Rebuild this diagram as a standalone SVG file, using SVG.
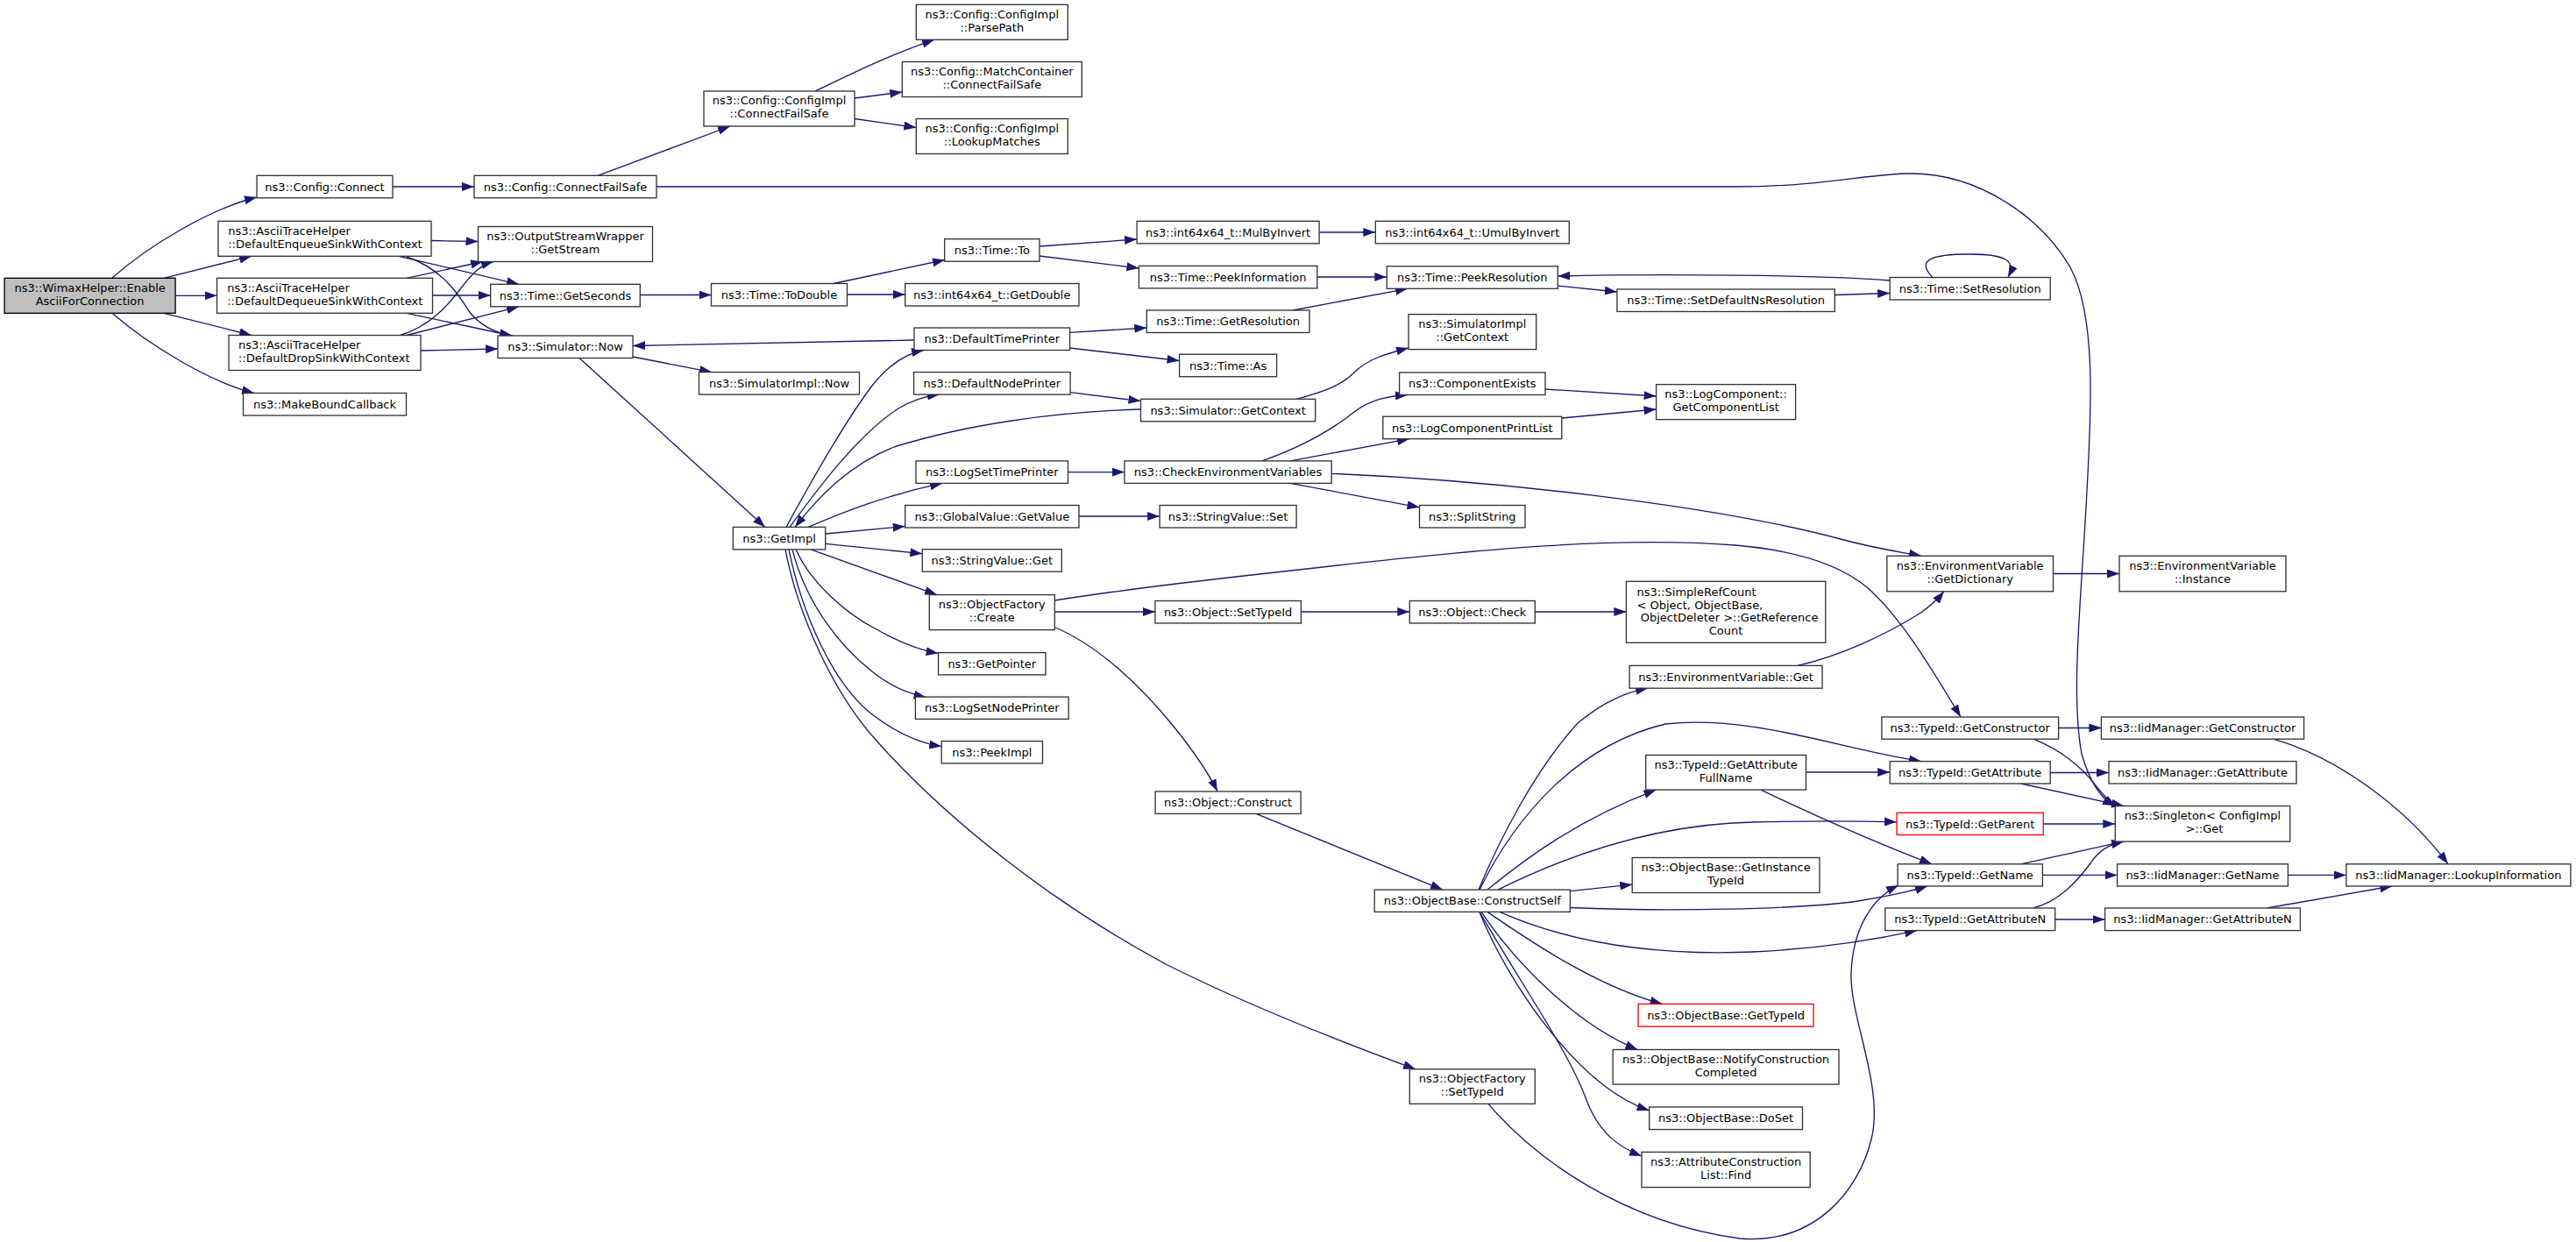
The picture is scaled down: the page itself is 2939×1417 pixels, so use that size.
<svg xmlns="http://www.w3.org/2000/svg" width="2939" height="1417" viewBox="0 0 2939 1417">
<defs>
<style>
.n rect{fill:#fff;stroke:#333;stroke-width:1.33}
.n.g rect{fill:#bfbfbf;stroke:#000}
.n.r rect{stroke:#f00}
.n text{font-family:"DejaVu Sans",sans-serif;font-size:13px;fill:#000;text-anchor:middle}
.n text.l{text-anchor:start}
#edges path{fill:none;stroke:#191970;stroke-width:1.33;marker-end:url(#a)}
</style>
<marker id="a" viewBox="0 0 14 10" refX="14" refY="5" markerWidth="14" markerHeight="10" markerUnits="userSpaceOnUse" orient="auto"><path d="M0,0 L14,5 L0,10 z" fill="#191970"/></marker>
</defs>
<rect width="2939" height="1417" fill="#fff"/>
<g id="edges">
<path d="M128,317 C170,280 240,238 293,225"/>
<path d="M187,317.3 L287,292.3"/>
<path d="M200,337.3 L247.5,337.3"/>
<path d="M187,357.3 L287,382.5"/>
<path d="M128,357.3 C170,394 240,436 290,448.5"/>
<path d="M448,213 L541,213"/>
<path d="M682,200.3 L833,144"/>
<path d="M749,213 L1980,213 C2080,213 2130,198 2180,198 C2260,198 2330,250 2362,305 C2392,360 2386,470 2381,560 C2375,680 2362,790 2375,860 C2385,895 2398,912 2413,919.6"/>
<path d="M930,104 C960,90 1010,64 1066,45.3"/>
<path d="M975,112 L1029.3,105"/>
<path d="M975,135.5 L1045.3,145.5"/>
<path d="M492,274.5 L545.5,275.5"/>
<path d="M455,292.3 L592,324.3"/>
<path d="M464,293 C500,305 520,330 535,355 C548,372 565,380 585,383"/>
<path d="M464,317.3 L551,298.5"/>
<path d="M493.5,337 L559.7,337"/>
<path d="M464,357.3 L584,383"/>
<path d="M457,382.5 C490,372 510,350 525,330 C540,310 550,302 563,298.5"/>
<path d="M464,382.5 L592,349.8"/>
<path d="M480,400 L568,398"/>
<path d="M730.3,336.5 L811.5,336.5"/>
<path d="M722,407 L812,424.6"/>
<path d="M661,408.5 L873,601.4"/>
<path d="M951,323.5 L1078,296.5"/>
<path d="M966.5,336 L1032.7,336"/>
<path d="M1186,281 L1297.1,273"/>
<path d="M1186,292 L1299.4,306"/>
<path d="M1505.1,265 L1569.3,265"/>
<path d="M1502.8,316 L1582.3,316"/>
<path d="M1475,354 L1606,329.3"/>
<path d="M1777.3,326 L1844.9,333"/>
<path d="M2093.3,336.5 L2156.2,334.5"/>
<path d="M2156.2,320 C2080,314 1900,312 1777.3,315"/>
<path d="M2205,316.5 C2185,296 2205,290 2247,290 C2290,290 2300,298 2291,316.5"/>
<path d="M1220.6,379.4 L1308.3,374"/>
<path d="M1220.6,397 L1345.6,411.5"/>
<path d="M1043,388 L722,394.5"/>
<path d="M1221,447.7 L1301.5,457.6"/>
<path d="M1479.4,455.3 C1510,447 1530,440 1545,425 C1560,410 1580,404 1607,397"/>
<path d="M1301.5,467 C1200,470 1100,485 1020,510 C970,530 935,565 907,601.4"/>
<path d="M897,601.4 C925,550 965,480 995,440 C1015,415 1035,403 1054,399.5"/>
<path d="M901,601.4 C935,555 980,495 1025,466 C1040,457 1055,452 1072,450.1"/>
<path d="M922,601.4 C960,585 1010,565 1075,551.4"/>
<path d="M941.7,609 L1032.7,600.5"/>
<path d="M941.7,620.4 L1052.3,631.7"/>
<path d="M925,626.9 L1069,678.6"/>
<path d="M908,626.9 C925,665 965,700 1000,718 C1030,735 1050,742 1070.6,745.5"/>
<path d="M904,626.9 C920,690 960,740 1000,770 C1020,785 1040,792 1056.6,795.5"/>
<path d="M900,626.9 C915,700 950,780 995,815 C1025,838 1050,848 1074.2,851.6"/>
<path d="M896,626.9 C910,700 950,790 1000,845 C1080,935 1200,1030 1330,1100 C1420,1145 1520,1185 1615,1219.8"/>
<path d="M1218.3,538.6 L1283,538.6"/>
<path d="M1231,589 L1323.1,589"/>
<path d="M1440,525.9 C1485,510 1520,490 1545,470 C1565,455 1585,452 1606,450.5"/>
<path d="M1472,525.9 L1608,500.7"/>
<path d="M1472,551.4 L1619.5,578.8"/>
<path d="M1519.2,540.3 C1700,548 1950,575 2100,615 C2140,626 2170,630 2192,634.3"/>
<path d="M1763,444 L1889.6,452"/>
<path d="M1781.7,477 L1889.6,467"/>
<path d="M1203.3,698 L1317.9,698"/>
<path d="M1203.3,685 C1300,670 1400,659 1500,648 C1700,625 1850,612 1980,622 C2050,628 2100,645 2130,670 C2170,705 2205,765 2237,818"/>
<path d="M1204,716 C1250,735 1300,780 1340,830 C1360,855 1378,880 1389,903"/>
<path d="M1484.1,698 L1608.3,698"/>
<path d="M1751.3,698 L1855.4,698"/>
<path d="M1433,928.4 L1646,1015.1"/>
<path d="M2051,759.4 C2100,748 2150,725 2190,700 C2205,690 2212,682 2218,674.8"/>
<path d="M2342.5,654.5 L2418,654.5"/>
<path d="M1687,1015.1 C1710,960 1750,880 1800,825 C1830,800 1855,790 1880,785.2"/>
<path d="M1688,1015.1 C1730,930 1800,850 1900,826 C2000,815 2100,855 2192,868.6"/>
<path d="M1697,1015.1 C1740,980 1800,935 1889.5,901.1"/>
<path d="M1709,1015.1 C1800,970 1900,940 2000,938 C2080,936 2130,937 2164.1,937.8"/>
<path d="M1791.4,1016.6 L1862.2,1009.2"/>
<path d="M1791.4,1035.5 C1900,1040 2050,1038 2120,1028 C2150,1023 2180,1017 2199,1011"/>
<path d="M1711,1040.4 C1800,1080 1900,1090 2000,1086 C2080,1082 2140,1072 2187,1061.6"/>
<path d="M1697,1040.4 C1740,1070 1820,1125 1896.6,1145.5"/>
<path d="M1690,1040.4 C1730,1100 1800,1170 1868.4,1197.5"/>
<path d="M1688,1040.4 C1720,1120 1800,1240 1881.7,1267"/>
<path d="M1688,1040.4 C1740,1130 1790,1200 1810,1255 C1825,1295 1850,1310 1873,1319"/>
<path d="M2060.5,881 L2156.2,881"/>
<path d="M2009,901.1 C2080,935 2150,965 2204,985.8"/>
<path d="M1698,1259.4 C1750,1320 1850,1395 1985,1413 C2070,1420 2120,1360 2135,1300 C2150,1240 2110,1160 2112,1110 C2114,1060 2135,1025 2166,1010"/>
<path d="M2348.7,830.5 L2397.4,830.5"/>
<path d="M2320,843.2 C2350,855 2375,875 2390,895 C2398,905 2405,914 2414,919.6"/>
<path d="M2338.7,881.5 L2406,881.5"/>
<path d="M2305.6,894 L2423,919.6"/>
<path d="M2331.3,940 L2413.3,940"/>
<path d="M2305.6,985.8 L2423,960.1"/>
<path d="M2330.4,998.4 L2415.6,998.4"/>
<path d="M2320,1036 C2350,1028 2370,1005 2385,985 C2395,970 2405,964 2423,960.1"/>
<path d="M2344.6,1049 L2401.6,1049"/>
<path d="M2593.5,843.2 C2660,862 2740,915 2793,985.8"/>
<path d="M2610.4,998.4 L2676.9,998.4"/>
<path d="M2586.5,1036 L2729.3,1011"/>
</g>
<g id="n_wimax" class="n g"><rect x="5.1" y="317.3" width="195" height="40"/><text x="102.6" y="332.6">ns3::WimaxHelper::Enable</text><text x="102.6" y="347.7">AsciiForConnection</text></g>
<g id="n_cfgconnect" class="n"><rect x="293" y="200.3" width="155" height="25.5"/><text x="370.5" y="217.7">ns3::Config::Connect</text></g>
<g id="n_cfgcfs" class="n"><rect x="541" y="200.3" width="208" height="25.5"/><text x="645" y="217.7">ns3::Config::ConnectFailSafe</text></g>
<g id="n_implcfs" class="n"><rect x="803" y="104" width="172" height="40"/><text x="889" y="119.3">ns3::Config::ConfigImpl</text><text x="889" y="134.4">::ConnectFailSafe</text></g>
<g id="n_parsepath" class="n"><rect x="1045.3" y="5.3" width="173" height="40"/><text x="1131.8" y="20.6">ns3::Config::ConfigImpl</text><text x="1131.8" y="35.7">::ParsePath</text></g>
<g id="n_matchcfs" class="n"><rect x="1029.3" y="70.5" width="205" height="40"/><text x="1131.8" y="85.8">ns3::Config::MatchContainer</text><text x="1131.8" y="100.9">::ConnectFailSafe</text></g>
<g id="n_lookup" class="n"><rect x="1045.3" y="135.5" width="173" height="40"/><text x="1131.8" y="150.8">ns3::Config::ConfigImpl</text><text x="1131.8" y="165.9">::LookupMatches</text></g>
<g id="n_enq" class="n"><rect x="249" y="252.3" width="243" height="40"/><text class="l" x="260.2" y="267.6">ns3::AsciiTraceHelper</text><text class="l" x="260.2" y="282.7">::DefaultEnqueueSinkWithContext</text></g>
<g id="n_deq" class="n"><rect x="247.5" y="317.3" width="246" height="40"/><text class="l" x="259.2" y="332.6">ns3::AsciiTraceHelper</text><text class="l" x="259.2" y="347.7">::DefaultDequeueSinkWithContext</text></g>
<g id="n_drop" class="n"><rect x="261" y="382.5" width="219" height="40"/><text class="l" x="271.9" y="397.8">ns3::AsciiTraceHelper</text><text class="l" x="271.9" y="412.9">::DefaultDropSinkWithContext</text></g>
<g id="n_mbc" class="n"><rect x="277.5" y="448.5" width="186" height="25.5"/><text x="370.5" y="465.9">ns3::MakeBoundCallback</text></g>
<g id="n_osw" class="n"><rect x="545.5" y="258.5" width="199" height="40"/><text x="645" y="273.8">ns3::OutputStreamWrapper</text><text x="645" y="288.9">::GetStream</text></g>
<g id="n_getsec" class="n"><rect x="559.7" y="324.3" width="170.6" height="25.5"/><text x="645" y="341.7">ns3::Time::GetSeconds</text></g>
<g id="n_simnow" class="n"><rect x="568" y="383" width="154" height="25.5"/><text x="645" y="400.4">ns3::Simulator::Now</text></g>
<g id="n_simimplnow" class="n"><rect x="797.5" y="424.6" width="183" height="25.5"/><text x="889" y="442">ns3::SimulatorImpl::Now</text></g>
<g id="n_todouble" class="n"><rect x="811.5" y="323.5" width="155" height="25.5"/><text x="889" y="340.9">ns3::Time::ToDouble</text></g>
<g id="n_getdouble" class="n"><rect x="1032.7" y="323.5" width="198.3" height="25.5"/><text x="1131.8" y="340.9">ns3::int64x64_t::GetDouble</text></g>
<g id="n_timeto" class="n"><rect x="1077.7" y="272.7" width="108.3" height="25.5"/><text x="1131.8" y="290.1">ns3::Time::To</text></g>
<g id="n_mulbyinv" class="n"><rect x="1297.1" y="252.3" width="208" height="25.5"/><text x="1401.1" y="269.7">ns3::int64x64_t::MulByInvert</text></g>
<g id="n_umul" class="n"><rect x="1569.3" y="252.3" width="221" height="25.5"/><text x="1679.8" y="269.7">ns3::int64x64_t::UmulByInvert</text></g>
<g id="n_peekinfo" class="n"><rect x="1299.4" y="303.4" width="203.4" height="25.5"/><text x="1401.1" y="320.8">ns3::Time::PeekInformation</text></g>
<g id="n_peekres" class="n"><rect x="1582.3" y="303.8" width="195" height="25.5"/><text x="1679.8" y="321.2">ns3::Time::PeekResolution</text></g>
<g id="n_setdefns" class="n"><rect x="1844.9" y="330" width="248.4" height="25.5"/><text x="1969.1" y="347.4">ns3::Time::SetDefaultNsResolution</text></g>
<g id="n_setres" class="n"><rect x="2156.2" y="316.5" width="183" height="25.5"/><text x="2247.7" y="333.9">ns3::Time::SetResolution</text></g>
<g id="n_getres" class="n"><rect x="1308.3" y="354" width="185.7" height="25.5"/><text x="1401.1" y="371.4">ns3::Time::GetResolution</text></g>
<g id="n_deftime" class="n"><rect x="1043" y="374" width="177.6" height="25.5"/><text x="1131.8" y="391.4">ns3::DefaultTimePrinter</text></g>
<g id="n_timeas" class="n"><rect x="1345.6" y="404.2" width="111" height="25.5"/><text x="1401.1" y="421.6">ns3::Time::As</text></g>
<g id="n_defnode" class="n"><rect x="1042.6" y="424.6" width="178.5" height="25.5"/><text x="1131.8" y="442">ns3::DefaultNodePrinter</text></g>
<g id="n_simgetctx" class="n"><rect x="1301.5" y="455.3" width="199.2" height="25.5"/><text x="1401.1" y="472.7">ns3::Simulator::GetContext</text></g>
<g id="n_simimplgetctx" class="n"><rect x="1607" y="358.6" width="145.7" height="40"/><text x="1679.8" y="373.9">ns3::SimulatorImpl</text><text x="1679.8" y="389">::GetContext</text></g>
<g id="n_compexists" class="n"><rect x="1596.6" y="425" width="166.4" height="25.5"/><text x="1679.8" y="442.4">ns3::ComponentExists</text></g>
<g id="n_logcompprint" class="n"><rect x="1577.8" y="475.2" width="204" height="25.5"/><text x="1679.8" y="492.6">ns3::LogComponentPrintList</text></g>
<g id="n_getcomplist" class="n"><rect x="1889.6" y="438.6" width="159" height="40"/><text x="1969.1" y="453.9">ns3::LogComponent::</text><text x="1969.1" y="469">GetComponentList</text></g>
<g id="n_logsettime" class="n"><rect x="1045" y="525.9" width="173.5" height="25.5"/><text x="1131.8" y="543.3">ns3::LogSetTimePrinter</text></g>
<g id="n_checkenv" class="n"><rect x="1283" y="525.9" width="236.2" height="25.5"/><text x="1401.1" y="543.3">ns3::CheckEnvironmentVariables</text></g>
<g id="n_splitstring" class="n"><rect x="1619.5" y="576.5" width="120.5" height="25.5"/><text x="1679.8" y="593.9">ns3::SplitString</text></g>
<g id="n_getimpl" class="n"><rect x="836.3" y="601.4" width="105.4" height="25.5"/><text x="889" y="618.8">ns3::GetImpl</text></g>
<g id="n_gvgetvalue" class="n"><rect x="1032.7" y="576.5" width="198.3" height="25.5"/><text x="1131.8" y="593.9">ns3::GlobalValue::GetValue</text></g>
<g id="n_svset" class="n"><rect x="1323.1" y="576.5" width="156" height="25.5"/><text x="1401.1" y="593.9">ns3::StringValue::Set</text></g>
<g id="n_svget" class="n"><rect x="1052.3" y="626.7" width="159" height="25.5"/><text x="1131.8" y="644.1">ns3::StringValue::Get</text></g>
<g id="n_ofcreate" class="n"><rect x="1060.3" y="678.6" width="143" height="40"/><text x="1131.8" y="693.9">ns3::ObjectFactory</text><text x="1131.8" y="709">::Create</text></g>
<g id="n_objsettypeid" class="n"><rect x="1317.9" y="685.5" width="166.5" height="25.5"/><text x="1401.1" y="702.9">ns3::Object::SetTypeId</text></g>
<g id="n_objcheck" class="n"><rect x="1608.3" y="685.5" width="143" height="25.5"/><text x="1679.8" y="702.9">ns3::Object::Check</text></g>
<g id="n_simplerefcount" class="n"><rect x="1855.4" y="663.3" width="227.4" height="70"/><text class="l" x="1867.5" y="680.2">ns3::SimpleRefCount</text><text class="l" x="1867.5" y="694.8">&lt; Object, ObjectBase,</text><text class="l" x="1871.7" y="709.4">ObjectDeleter &gt;::GetReference</text><text x="1969.1" y="724">Count</text></g>
<g id="n_getdict" class="n"><rect x="2152.9" y="634.3" width="189.6" height="40.5"/><text x="2247.7" y="649.6">ns3::EnvironmentVariable</text><text x="2247.7" y="664.7">::GetDictionary</text></g>
<g id="n_instance" class="n"><rect x="2418" y="634.3" width="190" height="40.5"/><text x="2513" y="649.6">ns3::EnvironmentVariable</text><text x="2513" y="664.7">::Instance</text></g>
<g id="n_getpointer" class="n"><rect x="1070.6" y="744.6" width="122.4" height="25.3"/><text x="1131.8" y="761.9">ns3::GetPointer</text></g>
<g id="n_logsetnode" class="n"><rect x="1044.4" y="795.1" width="174.8" height="25.3"/><text x="1131.8" y="812.4">ns3::LogSetNodePrinter</text></g>
<g id="n_peekimpl" class="n"><rect x="1074.2" y="845.6" width="115.3" height="25.3"/><text x="1131.8" y="862.9">ns3::PeekImpl</text></g>
<g id="n_objconstruct" class="n"><rect x="1318.1" y="903" width="166" height="25.4"/><text x="1401.1" y="920.3">ns3::Object::Construct</text></g>
<g id="n_envget" class="n"><rect x="1859.1" y="759.4" width="220" height="25.8"/><text x="1969.1" y="776.9">ns3::EnvironmentVariable::Get</text></g>
<g id="n_getattrfullname" class="n"><rect x="1877.7" y="861.5" width="182.8" height="39.6"/><text x="1969.1" y="876.8">ns3::TypeId::GetAttribute</text><text x="1969.1" y="891.9">FullName</text></g>
<g id="n_getinsttypeid" class="n"><rect x="1862.2" y="978.5" width="213.8" height="40"/><text x="1969.1" y="993.8">ns3::ObjectBase::GetInstance</text><text x="1969.1" y="1008.9">TypeId</text></g>
<g id="n_cs" class="n"><rect x="1568.2" y="1015.1" width="223.2" height="25.3"/><text x="1679.8" y="1032.4">ns3::ObjectBase::ConstructSelf</text></g>
<g id="n_obgettypeid" class="n r"><rect x="1869.1" y="1145.5" width="200" height="25.7"/><text x="1969.1" y="1163">ns3::ObjectBase::GetTypeId</text></g>
<g id="n_notify" class="n"><rect x="1840.2" y="1197.5" width="257.8" height="39.6"/><text x="1969.1" y="1212.8">ns3::ObjectBase::NotifyConstruction</text><text x="1969.1" y="1227.9">Completed</text></g>
<g id="n_doset" class="n"><rect x="1881.7" y="1263" width="174.8" height="25.6"/><text x="1969.1" y="1280.4">ns3::ObjectBase::DoSet</text></g>
<g id="n_attrfind" class="n"><rect x="1873" y="1314.4" width="192.2" height="40.2"/><text x="1969.1" y="1329.7">ns3::AttributeConstruction</text><text x="1969.1" y="1344.8">List::Find</text></g>
<g id="n_ofsettypeid" class="n"><rect x="1608.3" y="1219.8" width="143" height="39.6"/><text x="1679.8" y="1235.1">ns3::ObjectFactory</text><text x="1679.8" y="1250.2">::SetTypeId</text></g>
<g id="n_typeidgetctor" class="n"><rect x="2146.9" y="818" width="201.7" height="25.2"/><text x="2247.7" y="835.2">ns3::TypeId::GetConstructor</text></g>
<g id="n_iidgetctor" class="n"><rect x="2397.4" y="818" width="231.2" height="25.2"/><text x="2513" y="835.2">ns3::IidManager::GetConstructor</text></g>
<g id="n_typeidgetattr" class="n"><rect x="2156.2" y="868.6" width="183" height="25.4"/><text x="2247.7" y="885.9">ns3::TypeId::GetAttribute</text></g>
<g id="n_iidgetattr" class="n"><rect x="2406" y="868.6" width="214" height="25.4"/><text x="2513" y="885.9">ns3::IidManager::GetAttribute</text></g>
<g id="n_getparent" class="n r"><rect x="2164.1" y="927.3" width="167.2" height="25.2"/><text x="2247.7" y="944.5">ns3::TypeId::GetParent</text></g>
<g id="n_singleton" class="n"><rect x="2413.3" y="919.6" width="199.4" height="40.5"/><text x="2513" y="934.9">ns3::Singleton&lt; ConfigImpl</text><text x="2515" y="950">&gt;::Get</text></g>
<g id="n_getname" class="n"><rect x="2165.1" y="985.8" width="165.3" height="25.2"/><text x="2247.7" y="1003">ns3::TypeId::GetName</text></g>
<g id="n_iidgetname" class="n"><rect x="2415.6" y="985.8" width="194.8" height="25.2"/><text x="2513" y="1003">ns3::IidManager::GetName</text></g>
<g id="n_lookupinfo" class="n"><rect x="2676.9" y="985.8" width="256" height="25.2"/><text x="2804.9" y="1003">ns3::IidManager::LookupInformation</text></g>
<g id="n_getattrn" class="n"><rect x="2150.8" y="1036" width="193.9" height="25.6"/><text x="2247.7" y="1053.4">ns3::TypeId::GetAttributeN</text></g>
<g id="n_iidgetattrn" class="n"><rect x="2401.6" y="1036" width="222.8" height="25.6"/><text x="2513" y="1053.4">ns3::IidManager::GetAttributeN</text></g>
</svg>
